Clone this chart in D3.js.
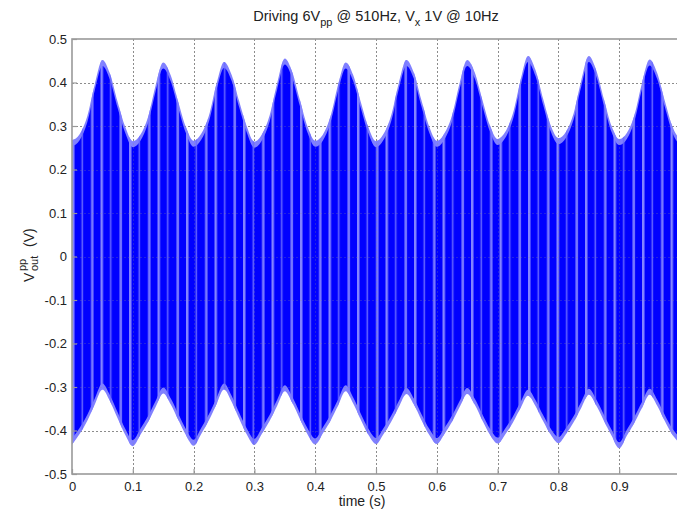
<!DOCTYPE html>
<html>
<head>
<meta charset="UTF-8">
<title>Driving 6Vpp @ 510Hz, Vx 1V @ 10Hz</title>
<style>
  body { margin: 0; background: #fff; }
  svg { font-family: "Liberation Sans", Arial, sans-serif; }
  .tick text { font-size: 13px; fill: #222; }
</style>
</head>
<body>
<svg id="chart" width="677" height="513"></svg>
<script src="https://cdnjs.cloudflare.com/ajax/libs/d3/7.8.5/d3.min.js"></script>
<script>
// envelope of the 510Hz signal, every 12.5 ms
const sampleTime = [
  0, 0.0125, 0.025, 0.0375, 0.05, 0.0625, 0.075, 0.0875,
  0.1, 0.1125, 0.125, 0.1375, 0.15, 0.1625, 0.175, 0.1875,
  0.2, 0.2125, 0.225, 0.2375, 0.25, 0.2625, 0.275, 0.2875,
  0.3, 0.3125, 0.325, 0.3375, 0.35, 0.3625, 0.375, 0.3875,
  0.4, 0.4125, 0.425, 0.4375, 0.45, 0.4625, 0.475, 0.4875,
  0.5, 0.5125, 0.525, 0.5375, 0.55, 0.5625, 0.575, 0.5875,
  0.6, 0.6125, 0.625, 0.6375, 0.65, 0.6625, 0.675, 0.6875,
  0.7, 0.7125, 0.725, 0.7375, 0.75, 0.7625, 0.775, 0.7875,
  0.8, 0.8125, 0.825, 0.8375, 0.85, 0.8625, 0.875, 0.8875,
  0.9, 0.9125, 0.925, 0.9375, 0.95, 0.9625, 0.975, 0.9875,
  1.0
];
const upperEnv = [
  0.267, 0.281, 0.322, 0.396, 0.452, 0.420, 0.356, 0.298,
  0.265, 0.280, 0.320, 0.393, 0.446, 0.416, 0.354, 0.297,
  0.266, 0.282, 0.323, 0.396, 0.447, 0.418, 0.357, 0.299,
  0.264, 0.281, 0.324, 0.398, 0.455, 0.423, 0.359, 0.298,
  0.266, 0.280, 0.321, 0.394, 0.446, 0.417, 0.355, 0.297,
  0.265, 0.282, 0.325, 0.399, 0.452, 0.422, 0.358, 0.299,
  0.266, 0.283, 0.324, 0.398, 0.452, 0.423, 0.360, 0.301,
  0.270, 0.286, 0.328, 0.403, 0.461, 0.428, 0.362, 0.301,
  0.272, 0.287, 0.329, 0.404, 0.461, 0.427, 0.361, 0.300,
  0.270, 0.284, 0.325, 0.399, 0.453, 0.422, 0.358, 0.299,
  0.268
];
const lowerEnv = [
  -0.432, -0.408, -0.378, -0.340, -0.306, -0.333, -0.372, -0.410,
  -0.436, -0.410, -0.381, -0.346, -0.315, -0.340, -0.376, -0.411,
  -0.435, -0.408, -0.377, -0.340, -0.306, -0.334, -0.373, -0.409,
  -0.433, -0.407, -0.378, -0.343, -0.310, -0.337, -0.374, -0.409,
  -0.432, -0.407, -0.378, -0.343, -0.310, -0.338, -0.375, -0.410,
  -0.431, -0.408, -0.380, -0.346, -0.316, -0.341, -0.377, -0.410,
  -0.431, -0.408, -0.380, -0.346, -0.316, -0.341, -0.377, -0.410,
  -0.430, -0.409, -0.382, -0.349, -0.320, -0.344, -0.379, -0.410,
  -0.429, -0.408, -0.381, -0.348, -0.318, -0.343, -0.378, -0.412,
  -0.441, -0.412, -0.382, -0.348, -0.318, -0.343, -0.378, -0.410,
  -0.430
];
const xTicks = [0, 0.1, 0.2, 0.3, 0.4, 0.5, 0.6, 0.7, 0.8, 0.9];
const yTicks = [-0.5, -0.4, -0.3, -0.2, -0.1, 0, 0.1, 0.2, 0.3, 0.4, 0.5];

const plotLeft = 72, plotRight = 680, plotTop = 39, plotBottom = 474;

const svg = d3.select("#chart");
const x = d3.scaleLinear().domain([0, 1]).range([plotLeft, plotRight]);
const y = d3.scaleLinear().domain([-0.5, 0.5]).range([plotBottom, plotTop]);

const defs = svg.append("defs");
defs.append("clipPath").attr("id", "plotClip")
  .append("rect").attr("x", plotLeft).attr("y", plotTop)
  .attr("width", plotRight - plotLeft).attr("height", plotBottom - plotTop);

const idx = d3.range(sampleTime.length);
const envArea = d3.area()
  .x(i => x(sampleTime[i]))
  .y0(i => y(lowerEnv[i]))
  .y1(i => y(upperEnv[i]))
  .curve(d3.curveMonotoneX);
const coreArea = d3.area()
  .x(i => x(sampleTime[i]))
  .y0(i => y(lowerEnv[i]) - 6)
  .y1(i => y(upperEnv[i]) + 6)
  .curve(d3.curveMonotoneX);

defs.append("clipPath").attr("id", "envClip")
  .append("path").attr("d", envArea(idx));

// aliasing stripes of the dense trace
const pat = defs.append("pattern").attr("id", "stripes")
  .attr("patternUnits", "userSpaceOnUse")
  .attr("x", plotLeft).attr("y", 0)
  .attr("width", 28.5).attr("height", 10);
pat.append("rect").attr("x", 0).attr("width", 2.5).attr("height", 10).attr("fill", "#8484ff");
pat.append("rect").attr("x", 9.5).attr("width", 1.5).attr("height", 10).attr("fill", "#6a6aff");
pat.append("rect").attr("x", 19).attr("width", 2.5).attr("height", 10).attr("fill", "#7c7cff");

// grid, under the trace
const gridLayer = (g) => {
  g.attr("stroke", "#8c8c8c").attr("stroke-width", 1).attr("stroke-dasharray", "2,2");
  g.selectAll(".gx").data(xTicks.slice(1)).enter().append("line")
    .attr("x1", d => Math.round(x(d)) + 0.5).attr("x2", d => Math.round(x(d)) + 0.5)
    .attr("y1", plotTop).attr("y2", plotBottom);
  g.selectAll(".gy").data(yTicks.slice(1, -1)).enter().append("line")
    .attr("y1", d => Math.round(y(d)) + 0.5).attr("y2", d => Math.round(y(d)) + 0.5)
    .attr("x1", plotLeft).attr("x2", plotRight);
};
svg.append("g").call(gridLayer);

const plot = svg.append("g").attr("clip-path", "url(#plotClip)");
plot.append("path").attr("d", envArea(idx)).attr("fill", "#8080ff");
plot.append("path").attr("d", coreArea(idx)).attr("fill", "#0000ff");
plot.append("g").attr("clip-path", "url(#envClip)")
  .append("rect").attr("x", plotLeft).attr("y", plotTop)
  .attr("width", plotRight - plotLeft).attr("height", plotBottom - plotTop)
  .attr("fill", "url(#stripes)");

// faint grid showing through the trace
svg.append("g").attr("opacity", 0.25).call(gridLayer);

// frame
svg.append("rect").attr("x", plotLeft).attr("y", plotTop)
  .attr("width", plotRight - plotLeft).attr("height", plotBottom - plotTop)
  .attr("fill", "none").attr("stroke", "#9a9a9a").attr("stroke-width", 1.6);

const xAxis = svg.append("g").attr("transform", `translate(0,${plotBottom})`)
  .call(d3.axisBottom(x).tickValues(xTicks).tickSize(-5).tickPadding(7.3)
    .tickFormat(d => d === 0 ? "0" : d.toFixed(1)));
const yAxis = svg.append("g").attr("transform", `translate(${plotLeft},0)`)
  .call(d3.axisLeft(y).tickValues(yTicks).tickSize(-5).tickPadding(5)
    .tickFormat(d => d === 0 ? "0" : d.toFixed(1)));
[xAxis, yAxis].forEach(a => {
  a.select(".domain").remove();
  a.selectAll(".tick line").attr("stroke", "#9a9a9a").attr("stroke-width", 1.2);
  a.attr("font-family", null).attr("font-size", null);
});

// title
const title = svg.append("text").attr("x", 376).attr("y", 21)
  .attr("text-anchor", "middle").attr("font-size", 14.5).attr("fill", "#222");
title.append("tspan").text("Driving 6V");
title.append("tspan").attr("dy", 5).attr("font-size", 11).text("pp");
title.append("tspan").attr("dy", -5).text(" @ 510Hz, V");
title.append("tspan").attr("dy", 5).attr("font-size", 11).text("x");
title.append("tspan").attr("dy", -5).text(" 1V @ 10Hz");

// x label
svg.append("text").attr("x", 362).attr("y", 506).attr("text-anchor", "middle")
  .attr("font-size", 14).attr("fill", "#222").text("time (s)");

// y label
const yl = svg.append("g").attr("transform", "translate(34,253) rotate(-90)")
  .attr("fill", "#222");
yl.append("text").attr("x", -29).attr("y", 0).attr("font-size", 14).text("V");
yl.append("text").attr("x", -18).attr("y", -8).attr("font-size", 11).text("pp");
yl.append("text").attr("x", -18).attr("y", 4).attr("font-size", 11).text("out");
yl.append("text").attr("x", 6).attr("y", 0).attr("font-size", 14).text("(V)");
</script>
</body>
</html>
